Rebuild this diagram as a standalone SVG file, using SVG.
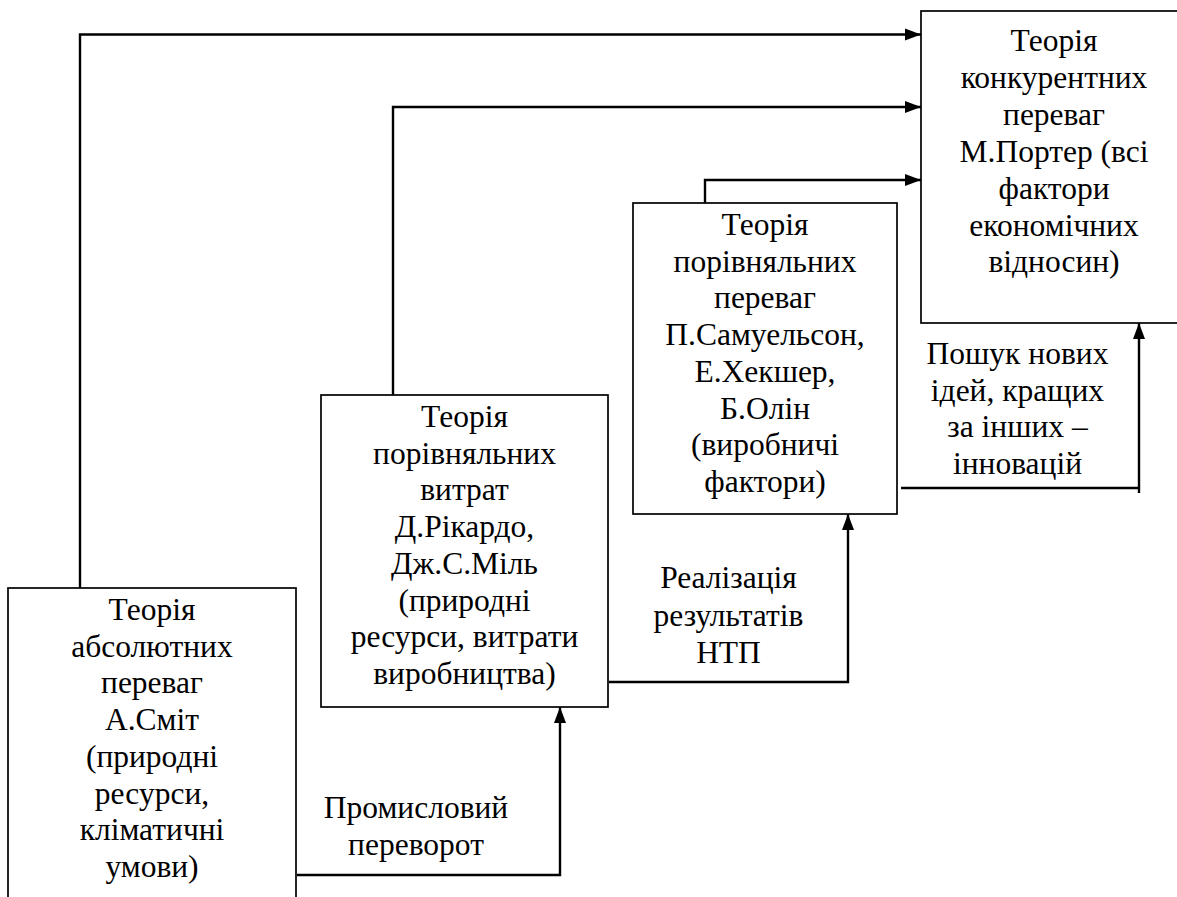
<svg xmlns="http://www.w3.org/2000/svg" width="1177" height="897" viewBox="0 0 1177 897">
<style>
.box{fill:#fff;stroke:#000;stroke-width:1.7}
.conn{fill:none;stroke:#000;stroke-width:2.4;stroke-linejoin:miter}
.t{font-family:'Liberation Serif','Times New Roman',Tinos,Times,'DejaVu Serif','Noto Serif',serif;font-size:31.5px;fill:#000;text-anchor:middle}
</style>
<defs>
<marker id="arr" markerUnits="userSpaceOnUse" markerWidth="17" markerHeight="13" refX="16" refY="6.5" orient="auto">
<path d="M0,0.5 L16,6.5 L0,12.5 z" fill="#000"/>
</marker>
</defs>
<rect width="1177" height="897" fill="#fff"/>
<g id="connectors">
<path class="conn" d="M80,588 V34.5 H921" marker-end="url(#arr)"/>
<path class="conn" d="M393,395 V107 H921" marker-end="url(#arr)"/>
<path class="conn" d="M705,203 V180 H921" marker-end="url(#arr)"/>
<path class="conn" d="M297,875 H560 V707" marker-end="url(#arr)"/>
<path class="conn" d="M609,682 H848 V514" marker-end="url(#arr)"/>
<path class="conn" d="M901,488 H1139 M1139,493 V323" marker-end="url(#arr)"/>
</g>
<g id="smith">
<rect class="box" x="8" y="588" width="288" height="340"/>
<text class="t" x="152" y="620">Теорія</text>
<text class="t" x="152" y="656.7">абсолютних</text>
<text class="t" x="152" y="693.4">переваг</text>
<text class="t" x="152" y="730.1">А.Сміт</text>
<text class="t" x="152" y="766.8">(природні</text>
<text class="t" x="152" y="803.5">ресурси,</text>
<text class="t" x="152" y="840.2">кліматичні</text>
<text class="t" x="152" y="876.9">умови)</text>
</g>
<g id="ricardo">
<rect class="box" x="321" y="395" width="287" height="312"/>
<text class="t" x="464.5" y="427">Теорія</text>
<text class="t" x="464.5" y="463.7">порівняльних</text>
<text class="t" x="464.5" y="500.4">витрат</text>
<text class="t" x="464.5" y="537.1">Д.Рікардо,</text>
<text class="t" x="464.5" y="573.8">Дж.С.Міль</text>
<text class="t" x="464.5" y="610.5">(природні</text>
<text class="t" x="464.5" y="647.2">ресурси, витрати</text>
<text class="t" x="464.5" y="683.9">виробництва)</text>
</g>
<g id="samuelson">
<rect class="box" x="633" y="203" width="264" height="311"/>
<text class="t" x="765" y="235">Теорія</text>
<text class="t" x="765" y="271.7">порівняльних</text>
<text class="t" x="765" y="308.4">переваг</text>
<text class="t" x="765" y="345.1">П.Самуельсон,</text>
<text class="t" x="765" y="381.8">Е.Хекшер,</text>
<text class="t" x="765" y="418.5">Б.Олін</text>
<text class="t" x="765" y="455.2">(виробничі</text>
<text class="t" x="765" y="491.9">фактори)</text>
</g>
<g id="porter">
<rect class="box" x="921" y="11" width="280" height="312"/>
<text class="t" x="1054" y="51">Теорія</text>
<text class="t" x="1054" y="87.9">конкурентних</text>
<text class="t" x="1054" y="124.8">переваг</text>
<text class="t" x="1054" y="161.7">М.Портер (всі</text>
<text class="t" x="1054" y="198.6">фактори</text>
<text class="t" x="1054" y="235.5">економічних</text>
<text class="t" x="1054" y="272.4">відносин)</text>
</g>
<g id="labels">
<text class="t" x="416" y="818">Промисловий</text>
<text class="t" x="416" y="855">переворот</text>
<text class="t" x="728.5" y="588">Реалізація</text>
<text class="t" x="728.5" y="625.5">результатів</text>
<text class="t" x="728.5" y="662.5">НТП</text>
<text class="t" x="1017.5" y="364">Пошук нових</text>
<text class="t" x="1017.5" y="400.5">ідей, кращих</text>
<text class="t" x="1017.5" y="437">за інших –</text>
<text class="t" x="1017.5" y="473.5">інновацій</text>
</g>
</svg>
